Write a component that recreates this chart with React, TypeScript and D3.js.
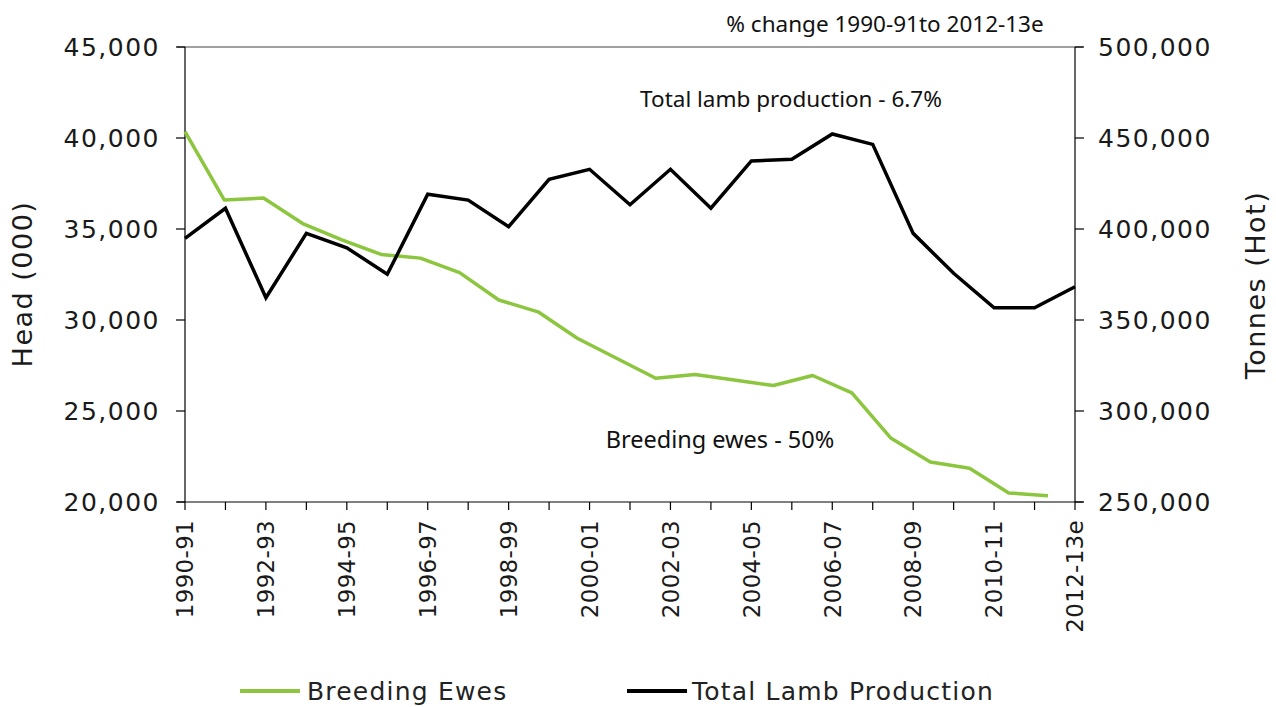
import React from 'react';
import * as d3 from 'd3';

// Financial years on the x axis
const years = [
  '1990-91', '1991-92', '1992-93', '1993-94', '1994-95', '1995-96', '1996-97', '1997-98',
  '1998-99', '1999-00', '2000-01', '2001-02', '2002-03', '2003-04', '2004-05', '2005-06',
  '2006-07', '2007-08', '2008-09', '2009-10', '2010-11', '2011-12', '2012-13e',
];

// Breeding ewes, head (000) - left axis
const breedingEwes = [
  40350, 36600, 36700, 35300, 34400, 33600, 33400, 32600, 31100, 30450, 29000, 27900,
  26800, 27000, 26700, 26400, 26950, 26000, 23500, 22200, 21850, 20500, 20350,
];

// Total lamb production, tonnes (hot) - right axis
const lambProduction = [
  394900, 411400, 362250, 397600, 389700, 375100, 419100, 415900, 401300, 427300, 432800, 413350,
  432800, 411400, 437400, 438300, 452200, 446500, 397600, 375650, 356750, 356750, 368300,
];

const leftTicks = [20000, 25000, 30000, 35000, 40000, 45000];
const rightTicks = [250000, 300000, 350000, 400000, 450000, 500000];

const GREEN = '#8cc63e';
const numFont = '"DejaVu Sans", sans-serif';
const noteFont = '"Noto Sans", "Open Sans", sans-serif';

const App: React.FC = () => {
  const width = 1276;
  const height = 707;
  const left = 185;
  const right = 1075;
  const top = 47;
  const bottom = 502;

  const x = d3.scalePoint<string>().domain(years).range([left, right]);
  // the ewes series sits on a slightly shorter run in the original chart
  const xEwes = d3.scalePoint<string>().domain(years).range([left, 1048]);
  const yLeft = d3.scaleLinear().domain([20000, 45000]).range([bottom, top]);
  const yRight = d3.scaleLinear().domain([250000, 500000]).range([bottom, top]);

  const fmt = d3.format(',');

  const ewesLine = d3.line<number>()
    .x((_, i) => xEwes(years[i]) as number)
    .y(d => yLeft(d));

  const lambLine = d3.line<number>()
    .x((_, i) => x(years[i]) as number)
    .y(d => yRight(d));

  return (
    <svg width={width} height={height} style={{ position: 'absolute', left: 0, top: 0, background: '#fff' }}>
      {/* top border */}
      <line x1={left - 8} x2={right + 8} y1={top} y2={top} stroke="#808080" strokeWidth={1.6} />

      {/* axes */}
      <g stroke="#000" strokeWidth={1.2}>
        <line x1={left} x2={left} y1={top} y2={bottom} />
        <line x1={right} x2={right} y1={top} y2={bottom} />
        <line x1={left - 8} x2={right + 8} y1={bottom} y2={bottom} />
        {leftTicks.map(t => (
          <line key={'l' + t} x1={left - 9} x2={left} y1={yLeft(t)} y2={yLeft(t)} />
        ))}
        {rightTicks.map(t => (
          <line key={'r' + t} x1={right} x2={right + 9} y1={yRight(t)} y2={yRight(t)} />
        ))}
        {years.map(yr => (
          <line key={'x' + yr} x1={x(yr)} x2={x(yr)} y1={bottom} y2={bottom + 8} />
        ))}
      </g>

      {/* tick labels */}
      <g fontFamily={numFont} fontSize={25} fill="#1a1a1a" letterSpacing={1.5}>
        {leftTicks.map(t => (
          <text key={'lt' + t} x={left - 25} y={yLeft(t)} dy="0.36em" textAnchor="end">{fmt(t)}</text>
        ))}
        {rightTicks.map(t => (
          <text key={'rt' + t} x={right + 23} y={yRight(t)} dy="0.36em" textAnchor="start">{fmt(t)}</text>
        ))}
      </g>
      <g fontFamily={numFont} fontSize={23} fill="#1a1a1a" letterSpacing={0.3}>
        {years.filter((_, i) => i % 2 === 0).map(yr => (
          <text
            key={'xt' + yr}
            transform={`translate(${x(yr)},${bottom + 18}) rotate(-90)`}
            dy="0.36em"
            textAnchor="end"
          >
            {yr}
          </text>
        ))}
      </g>

      {/* axis titles */}
      <g fontFamily={numFont} fontSize={27} fill="#1a1a1a" letterSpacing={1.5}>
        <text transform="translate(22,284) rotate(-90)" textAnchor="middle" dy="0.36em">Head (000)</text>
        <text transform="translate(1255,285) rotate(-90)" textAnchor="middle" dy="0.36em">Tonnes (Hot)</text>
      </g>

      {/* series */}
      <path d={ewesLine(breedingEwes) ?? ''} fill="none" stroke={GREEN} strokeWidth={3.5} strokeLinejoin="round" />
      <path d={lambLine(lambProduction) ?? ''} fill="none" stroke="#000" strokeWidth={3.5} strokeLinejoin="miter" />

      {/* notes */}
      <g fontFamily={noteFont} fill="#111">
        <text x={885} y={24} dy="0.36em" textAnchor="middle" fontSize={22.5}>% change 1990-91to 2012-13e</text>
        <text x={791} y={99} dy="0.36em" textAnchor="middle" fontSize={22.5}>Total lamb production - 6.7%</text>
        <text x={720} y={440} dy="0.36em" textAnchor="middle" fontSize={23.5}>Breeding ewes - 50%</text>
      </g>

      {/* legend */}
      <g fontFamily={numFont} fontSize={25} fill="#222" letterSpacing={1.2}>
        <line x1={240} x2={300} y1={691} y2={691} stroke={GREEN} strokeWidth={4} />
        <text x={307} y={691} dy="0.36em">Breeding Ewes</text>
        <line x1={627} x2={687} y1={691} y2={691} stroke="#000" strokeWidth={4} />
        <text x={692} y={691} dy="0.36em">Total Lamb Production</text>
      </g>
    </svg>
  );
};

export default App;
